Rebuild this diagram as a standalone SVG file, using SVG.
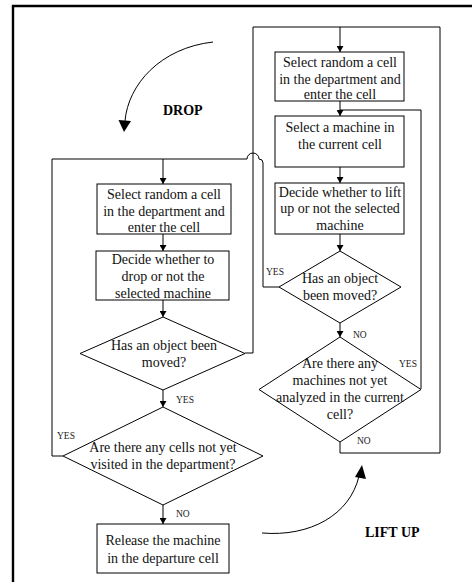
<svg xmlns="http://www.w3.org/2000/svg" width="472" height="582" viewBox="0 0 472 582">
  <style>
    .box { fill: #fff; stroke: #000; stroke-width: 1; }
    .dec { fill: #fff; stroke: #000; stroke-width: 1; }
    .ln { fill: none; stroke: #000; stroke-width: 1; }
    .t { font-family: "Liberation Serif", "Times New Roman", serif; font-size: 14px; fill: #111; text-anchor: middle; }
    .lbl { font-family: "Liberation Serif", "Times New Roman", serif; font-size: 9.5px; fill: #222; }
    .big { font-family: "Liberation Serif", "Times New Roman", serif; font-size: 14px; font-weight: bold; fill: #000; }
    .frame { stroke: #000; stroke-width: 2.4; fill: none; }
  </style>
  <defs>
    <marker id="ah" markerWidth="6" markerHeight="7" refX="6" refY="3.5" orient="auto" markerUnits="userSpaceOnUse">
      <path d="M0,0 L6,3.5 L0,7 Z" fill="#000"/>
    </marker>
  </defs>

  <rect width="472" height="582" fill="#fff"/>

  <!-- page frame (top and left edges) -->
  <path class="frame" d="M13,582 L13,6 L472,6"/>

  <!-- connectors -->
  <g id="connectors">
    <!-- drop loop entry -->
    <path class="ln" d="M52,456 L63,456"/>
    <path class="ln" d="M52,456 L52,159 L247,159"/>
    <path class="ln" d="M279,287 L263,287 L263,163 Q263,159 259,159 A6,6 0 0 0 247,159"/>
    <path class="ln" d="M163,159 L163,184" marker-end="url(#ah)"/>
    <path class="ln" d="M163,234 L163,251" marker-end="url(#ah)"/>
    <path class="ln" d="M163,300 L163,317" marker-end="url(#ah)"/>
    <path class="ln" d="M163,390 L163,407" marker-end="url(#ah)"/>
    <path class="ln" d="M163,505 L163,524" marker-end="url(#ah)"/>
    <!-- lift-up loop -->
    <path class="ln" d="M245,353 L253,353 L253,27 L440,27 L440,453 L340,453 L340,442"/>
    <path class="ln" d="M340,27 L340,52" marker-end="url(#ah)"/>
    <path class="ln" d="M340,101 L340,116" marker-end="url(#ah)"/>
    <path class="ln" d="M421,389 L421,110 L340,110"/>
    <path class="ln" d="M340,167 L340,183" marker-end="url(#ah)"/>
    <path class="ln" d="M340,234 L340,251" marker-end="url(#ah)"/>
    <path class="ln" d="M340,323 L340,337" marker-end="url(#ah)"/>

    <text class="lbl" x="176" y="403">YES</text>
    <text class="lbl" x="57" y="439">YES</text>
    <text class="lbl" x="176" y="517">NO</text>
    <text class="lbl" x="266" y="275">YES</text>
    <text class="lbl" x="353" y="338">NO</text>
    <text class="lbl" x="399" y="367">YES</text>
    <text class="lbl" x="357" y="444">NO</text>
  </g>

  <!-- process arrows -->
  <g id="drop-arrow">
    <path class="ln" d="M213,42 C160,48 128,85 125,121"/>
    <path d="M118.5,120 L131,121 L124,132 Z" fill="#000"/>
    <text class="big" x="163" y="115">DROP</text>
  </g>
  <g id="liftup-arrow">
    <path class="ln" d="M262,533 C310,537 350,515 359,476"/>
    <path d="M355,477 L366,479 L362,465 Z" fill="#000"/>
    <text class="big" x="365" y="537">LIFT UP</text>
  </g>

  <!-- DROP chart -->
  <g id="d-select">
    <rect class="box" x="97" y="184" width="134" height="50"/>
    <text class="t" x="164" y="199">Select random a cell</text>
    <text class="t" x="164" y="216">in the department and</text>
    <text class="t" x="164" y="232">enter the cell</text>
  </g>
  <g id="d-decide">
    <rect class="box" x="96" y="251" width="133" height="49"/>
    <text class="t" x="163" y="264">Decide whether to</text>
    <text class="t" x="163" y="281">drop or not the</text>
    <text class="t" x="163" y="298">selected machine</text>
  </g>
  <g id="d-moved">
    <polygon class="dec" points="163,317 245,353.5 163,390 80,353.5"/>
    <text class="t" x="164" y="350">Has an object been</text>
    <text class="t" x="164" y="367">moved?</text>
  </g>
  <g id="d-cells">
    <polygon class="dec" points="163,407 263,456 163,505 63,456"/>
    <text class="t" x="163" y="452">Are there any cells not yet</text>
    <text class="t" x="163" y="469">visited in the department?</text>
  </g>
  <g id="d-release">
    <rect class="box" x="97" y="524" width="132" height="49"/>
    <text class="t" x="163" y="545">Release the machine</text>
    <text class="t" x="163" y="563">in the departure cell</text>
  </g>

  <!-- LIFT UP chart -->
  <g id="l-select">
    <rect class="box" x="275" y="52" width="129" height="49"/>
    <text class="t" x="340" y="67">Select random a cell</text>
    <text class="t" x="340" y="84">in the department and</text>
    <text class="t" x="340" y="99">enter the cell</text>
  </g>
  <g id="l-machine">
    <rect class="box" x="275" y="116" width="129" height="51"/>
    <text class="t" x="340" y="132">Select a machine in</text>
    <text class="t" x="340" y="149">the current cell</text>
  </g>
  <g id="l-decide">
    <rect class="box" x="275" y="183" width="129" height="51"/>
    <text class="t" x="340" y="197">Decide whether to lift</text>
    <text class="t" x="340" y="213">up or not the selected</text>
    <text class="t" x="340" y="230">machine</text>
  </g>
  <g id="l-moved">
    <polygon class="dec" points="340,251 401,287 340,323 279,287"/>
    <text class="t" x="340" y="283">Has an object</text>
    <text class="t" x="340" y="300">been moved?</text>
  </g>
  <g id="l-machines">
    <polygon class="dec" points="340,337 421,389.5 340,442 259,389.5"/>
    <text class="t" x="340" y="368">Are there any</text>
    <text class="t" x="340" y="385">machines not yet</text>
    <text class="t" x="340" y="402">analyzed in the current</text>
    <text class="t" x="340" y="419">cell?</text>
  </g>
</svg>
